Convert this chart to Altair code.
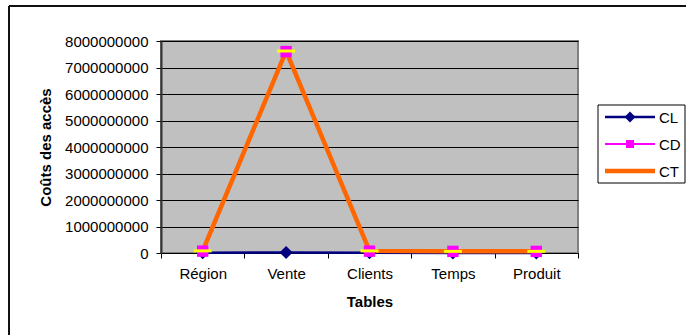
import altair as alt
import pandas as pd

categories = ["Région", "Vente", "Clients", "Temps", "Produit"]
cl_values = [1.0e7, 2.0e7, 1.0e7, 2.0e6, 2.0e6]
cd_values = [7.0e7, 7.6e9, 7.0e7, 6.0e7, 6.0e7]
ct_values = [8.0e7, 7.62e9, 8.0e7, 6.2e7, 6.2e7]
series_names = ["CL", "CD", "CT"]
y_ticks = [0, 1e9, 2e9, 3e9, 4e9, 5e9, 6e9, 7e9, 8e9]

NAVY = "#000080"
MAGENTA = "#FF00FF"
ORANGE = "#FF6600"
YELLOW = "#FFFF00"
FONT = "Liberation Sans"

rows = []
for s, vals in zip(series_names, [cl_values, cd_values, ct_values]):
    for c, v in zip(categories, vals):
        rows.append({"Table": c, "Série": s, "Coût": v})
df = pd.DataFrame(rows)

x_enc = alt.X("Table:N", sort=categories,
              scale=alt.Scale(type="band", paddingInner=0, paddingOuter=0),
              axis=alt.Axis(title="Tables", labelAngle=0, tickBand="extent"))
y_enc = alt.Y("Coût:Q", scale=alt.Scale(domain=[0, 8e9], nice=False),
              axis=alt.Axis(title="Coûts des accès", values=y_ticks, format="d"))

base = alt.Chart(df)

def sel(s):
    return base.transform_filter(alt.datum["Série"] == s)

line_cl = sel("CL").mark_line(color=NAVY, strokeWidth=2.5).encode(x=x_enc, y=y_enc)
line_cd = sel("CD").mark_line(color=MAGENTA, strokeWidth=2).encode(x=x_enc, y=y_enc)
line_ct = sel("CT").mark_line(color=ORANGE, strokeWidth=4.5).encode(x=x_enc, y=y_enc)
pt_cl = sel("CL").mark_point(shape="diamond", filled=True, color=NAVY, size=170, opacity=1).encode(x=x_enc, y=y_enc)
pt_cd = sel("CD").mark_point(shape="square", filled=True, color=MAGENTA, size=130, opacity=1).encode(x=x_enc, y=y_enc)
pt_ct = sel("CT").mark_tick(color=YELLOW, size=18, thickness=3, orient="horizontal", opacity=1).encode(x=x_enc, y=y_enc)

one = pd.DataFrame({"a": [0]})
deco = []
# outer frame (top and left edges visible)
deco.append(alt.Chart(one).mark_rule(color="#111111", strokeWidth=2).encode(
    x=alt.value(-152), x2=alt.value(700), y=alt.value(-35)))
deco.append(alt.Chart(one).mark_rule(color="#111111", strokeWidth=2).encode(
    x=alt.value(-152), y=alt.value(-35), y2=alt.value(400)))

# legend
deco.append(alt.Chart(one).mark_rect(fill="white", stroke="black", strokeWidth=1).encode(
    x=alt.value(437), x2=alt.value(524), y=alt.value(64), y2=alt.value(142)))
leg_y = {"CL": 76, "CD": 103, "CT": 130}
leg_col = {"CL": NAVY, "CD": MAGENTA, "CT": ORANGE}
leg_w = {"CL": 2.5, "CD": 2, "CT": 4.5}
for s in series_names:
    yy = leg_y[s]
    deco.append(alt.Chart(one).mark_rule(color=leg_col[s], strokeWidth=leg_w[s]).encode(
        x=alt.value(444), x2=alt.value(494), y=alt.value(yy)))
    if s == "CL":
        deco.append(alt.Chart(one).mark_point(shape="diamond", filled=True, color=NAVY, size=120, opacity=1).encode(
            x=alt.value(469), y=alt.value(yy)))
    if s == "CD":
        deco.append(alt.Chart(one).mark_point(shape="square", filled=True, color=MAGENTA, size=64, opacity=1).encode(
            x=alt.value(469), y=alt.value(yy)))
    deco.append(alt.Chart(one).mark_text(align="left", baseline="middle", font=FONT, fontSize=15, color="black").encode(
        x=alt.value(498), y=alt.value(yy + 1), text=alt.value(s)))

chart = alt.layer(line_cl, line_cd, line_ct, pt_cl, pt_cd, pt_ct, *deco).properties(
    width=417, height=212,
    autosize=alt.AutoSizeParams(type="none"),
    padding={"left": 161, "top": 41, "right": 108, "bottom": 82},
    background="white",
).configure_view(
    fill="#C0C0C0", stroke="#808080", strokeWidth=2
).configure_axis(
    labelFont=FONT, titleFont=FONT, labelFontSize=15, titleFontSize=15,
    labelColor="black", titleColor="black", titleFontWeight="bold",
    domainColor="black", tickColor="black", tickSize=5,
    gridColor="black", gridOpacity=1, gridWidth=1,
).configure_axisX(
    grid=False, labelPadding=8, titlePadding=13,
).configure_axisY(
    grid=True, labelPadding=8, titlePadding=11, domainColor="#333333", domainWidth=2,
)

chart.save("out.html", embed_options={"renderer": "svg", "actions": False})
